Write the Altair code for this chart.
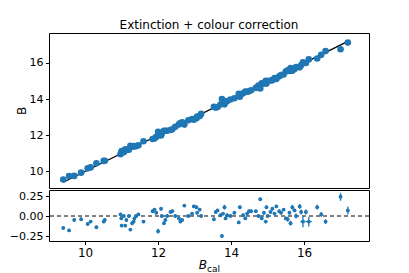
import altair as alt
import pandas as pd

# Calibrated magnitudes (x) and residuals
bcal = [9.40, 9.56, 9.70, 9.89, 10.07, 10.15, 10.31, 10.51, 10.54, 10.97,
        10.99, 11.00, 11.06, 11.10, 11.13, 11.20, 11.24, 11.29, 11.33, 11.35,
        11.40, 11.46, 11.60, 11.85, 11.90, 11.95, 12.00, 12.08, 12.10, 12.16,
        12.20, 12.25, 12.34, 12.39, 12.47, 12.57, 12.61, 12.66, 12.72, 12.83,
        12.93, 12.98, 13.05, 13.07, 13.14, 13.18, 13.53, 13.58, 13.63, 13.71,
        13.75, 13.78, 13.82, 13.85, 13.89, 13.98, 14.09, 14.21, 14.24, 14.33,
        14.39, 14.44, 14.49, 14.55, 14.68, 14.75, 14.80, 14.84, 14.90, 14.95,
        14.97, 15.00, 15.08, 15.13, 15.19, 15.24, 15.32, 15.37, 15.44, 15.50,
        15.55, 15.60, 15.63, 15.68, 15.74, 15.78, 15.88, 15.92, 15.97, 16.05,
        16.13, 16.36, 16.47, 16.59, 17.00, 17.20]

resid = [-0.15, -0.18, -0.05, -0.04, -0.10, -0.07, -0.14, -0.07, -0.05, 0.02,
         -0.03, -0.12, 0.00, -0.12, -0.05, 0.00, -0.17, -0.09, -0.07, -0.03,
         0.00, 0.02, -0.07, 0.06, 0.08, 0.04, -0.19, 0.09, 0.00, -0.09,
         -0.05, 0.00, 0.05, 0.06, 0.00, -0.03, -0.07, -0.05, 0.13, 0.00,
         0.03, 0.12, 0.11, 0.04, 0.08, 0.00, -0.04, 0.05, 0.07, 0.01,
         -0.25, 0.03, 0.11, -0.03, 0.01, 0.00, 0.04, -0.08, 0.11, 0.01,
         -0.03, 0.03, 0.06, 0.06, 0.06, 0.00, 0.21, -0.03, 0.04, -0.07,
         0.11, 0.00, 0.05, 0.09, 0.03, 0.12, 0.06, 0.04, 0.08, -0.03,
         -0.04, 0.04, -0.09, 0.11, 0.07, 0.00, 0.12, 0.05, -0.07, 0.05,
         -0.07, 0.11, 0.02, -0.07, 0.24, 0.07]

yerr = [0.02, 0.02, 0.02, 0.02, 0.02, 0.02, 0.02, 0.02, 0.02, 0.02,
        0.02, 0.02, 0.02, 0.02, 0.02, 0.02, 0.02, 0.02, 0.02, 0.02,
        0.02, 0.02, 0.02, 0.02, 0.02, 0.02, 0.03, 0.02, 0.02, 0.02,
        0.02, 0.02, 0.02, 0.02, 0.02, 0.02, 0.02, 0.02, 0.02, 0.02,
        0.02, 0.02, 0.02, 0.02, 0.02, 0.02, 0.02, 0.02, 0.02, 0.02,
        0.02, 0.02, 0.03, 0.02, 0.02, 0.02, 0.02, 0.02, 0.02, 0.02,
        0.02, 0.02, 0.02, 0.02, 0.02, 0.02, 0.02, 0.02, 0.02, 0.02,
        0.02, 0.02, 0.02, 0.02, 0.02, 0.02, 0.02, 0.02, 0.02, 0.02,
        0.03, 0.02, 0.03, 0.03, 0.02, 0.03, 0.03, 0.03, 0.07, 0.03,
        0.06, 0.03, 0.03, 0.03, 0.05, 0.05]

xerr = [0.01, 0.01, 0.01, 0.01, 0.01, 0.01, 0.01, 0.01, 0.01, 0.01,
        0.01, 0.01, 0.01, 0.01, 0.01, 0.01, 0.01, 0.01, 0.01, 0.01,
        0.01, 0.01, 0.01, 0.01, 0.01, 0.01, 0.01, 0.01, 0.01, 0.01,
        0.01, 0.01, 0.01, 0.01, 0.01, 0.01, 0.01, 0.01, 0.01, 0.01,
        0.01, 0.01, 0.01, 0.01, 0.01, 0.01, 0.01, 0.01, 0.01, 0.01,
        0.01, 0.01, 0.01, 0.01, 0.01, 0.01, 0.01, 0.01, 0.01, 0.01,
        0.01, 0.01, 0.01, 0.01, 0.01, 0.01, 0.01, 0.01, 0.01, 0.01,
        0.01, 0.01, 0.01, 0.01, 0.01, 0.01, 0.01, 0.01, 0.01, 0.01,
        0.02, 0.02, 0.02, 0.02, 0.02, 0.02, 0.02, 0.02, 0.07, 0.02,
        0.08, 0.02, 0.02, 0.02, 0.03, 0.03]

b_obs = [round(c - r, 3) for c, r in zip(bcal, resid)]

df = pd.DataFrame({
    "bcal": bcal,
    "B": b_obs,
    "r": resid,
    "ylo": [r - e for r, e in zip(resid, yerr)],
    "yhi": [r + e for r, e in zip(resid, yerr)],
    "xlo": [c - e for c, e in zip(bcal, xerr)],
    "xhi": [c + e for c, e in zip(bcal, xerr)],
})
line_df = pd.DataFrame({"x": [min(bcal), max(bcal)]})

BLUE = "#1f77b4"
FONT = "DejaVu Sans"
xscale = alt.Scale(domain=[9.01, 17.78], nice=False, zero=False)
yscale_top = alt.Scale(domain=[9.08, 17.66], nice=False, zero=False)
yscale_bot = alt.Scale(domain=[-0.3125, 0.325], nice=False, zero=False)

x_axis_bot = alt.Axis(values=[10, 12, 14, 16], title=None, labelFontSize=12)
y_axis_bot = alt.Axis(values=[-0.25, 0.0, 0.25], title=None, labelOverlap=False,
                      labelExpr="replace(format(datum.value, '.2f'), '-', '\u2212')")
y_axis_top = alt.Axis(values=[10, 12, 14, 16], title="B", titlePadding=1)

top_line = alt.Chart(line_df).mark_line(color="black", strokeWidth=1.3).encode(
    x=alt.X("x:Q", scale=xscale, axis=None),
    y=alt.Y("x:Q", scale=yscale_top, axis=y_axis_top),
)
top_pts = alt.Chart(df).mark_circle(color=BLUE, size=44, opacity=1).encode(
    x=alt.X("bcal:Q", scale=xscale, axis=None),
    y=alt.Y("B:Q", scale=yscale_top, axis=y_axis_top),
)
top = alt.layer(top_line, top_pts).properties(
    width=320, height=155,
    title=alt.TitleParams("Extinction + colour correction", font=FONT,
                          fontSize=12, fontWeight="normal", color="black",
                          anchor="middle", offset=1),
)

zero_rule = alt.Chart(pd.DataFrame({"z": [0.0]})).mark_rule(
    color="black", strokeDash=[4, 3], strokeWidth=1).encode(
    y=alt.Y("z:Q", scale=yscale_bot, axis=y_axis_bot),
)
vbars = alt.Chart(df).mark_rule(color=BLUE, strokeWidth=1.3).encode(
    x=alt.X("bcal:Q", scale=xscale, axis=x_axis_bot),
    y=alt.Y("ylo:Q", scale=yscale_bot, axis=y_axis_bot),
    y2="yhi:Q",
)
hbars = alt.Chart(df).mark_rule(color=BLUE, strokeWidth=1.3).encode(
    x=alt.X("xlo:Q", scale=xscale, axis=x_axis_bot),
    x2="xhi:Q",
    y=alt.Y("r:Q", scale=yscale_bot, axis=y_axis_bot),
)
bot_pts = alt.Chart(df).mark_circle(color=BLUE, size=15, opacity=1).encode(
    x=alt.X("bcal:Q", scale=xscale, axis=x_axis_bot),
    y=alt.Y("r:Q", scale=yscale_bot, axis=y_axis_bot),
)
lab_main = alt.Chart(pd.DataFrame({"t": ["B"]})).mark_text(
    font=FONT, fontSize=12, fontStyle="italic", align="right",
    baseline="alphabetic", color="black").encode(
    text="t:N", x=alt.value(158), y=alt.value(79))
lab_sub = alt.Chart(pd.DataFrame({"t": ["cal"]})).mark_text(
    font=FONT, fontSize=9, align="left",
    baseline="alphabetic", color="black").encode(
    text="t:N", x=alt.value(158), y=alt.value(82))

bottom = alt.layer(zero_rule, vbars, hbars, bot_pts, lab_main, lab_sub).properties(
    width=320, height=51)

chart = alt.vconcat(top, bottom, spacing=0).properties(
    padding={"left": 0, "top": 10, "right": 5, "bottom": 0}
).configure_view(stroke="black", strokeWidth=1).configure_axis(
    grid=False, domain=False, tickColor="black", tickSize=3.5, tickWidth=1,
    labelColor="black", labelFont=FONT, labelFontSize=11, labelPadding=2.5,
    titleFont=FONT, titleFontSize=12, titleFontWeight="normal",
    titleColor="black",
)

chart.save("out.html", embed_options={"renderer": "svg", "actions": False})
